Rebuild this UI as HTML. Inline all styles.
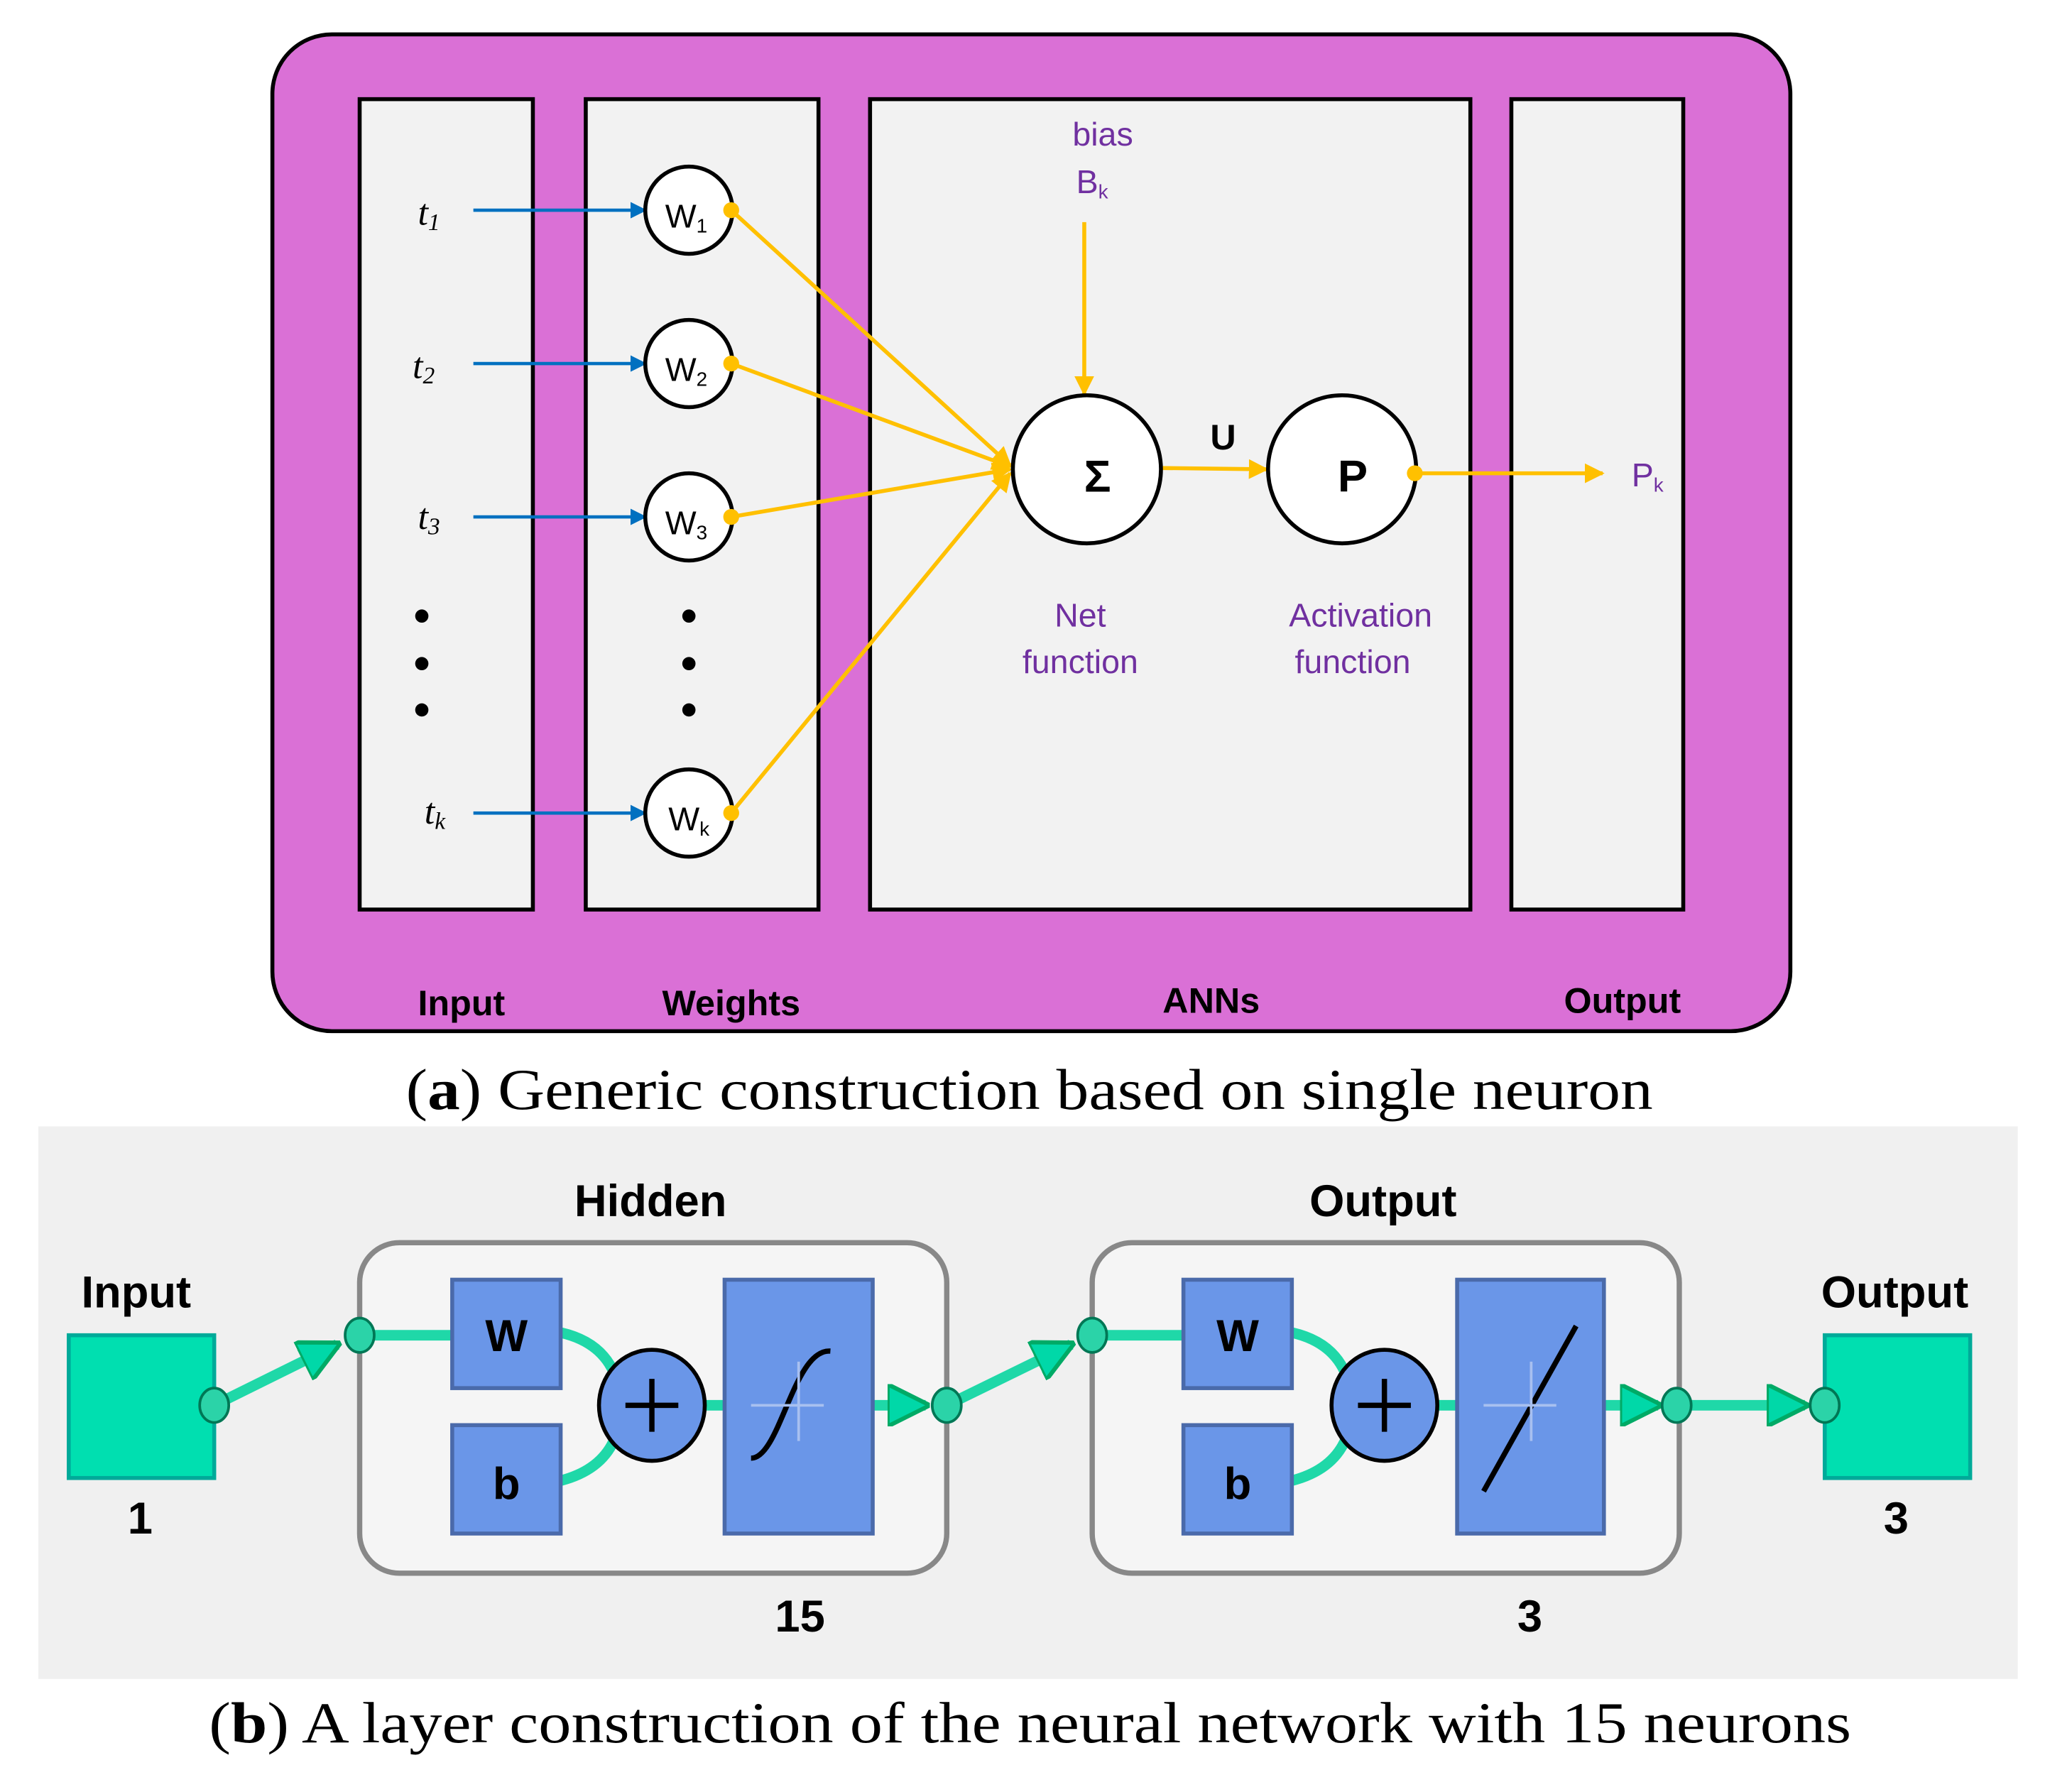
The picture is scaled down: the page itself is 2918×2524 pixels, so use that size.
<!DOCTYPE html>
<html><head><meta charset="utf-8"><style>
html,body{margin:0;padding:0;background:#fff;}
svg{display:block;}
.c{font-family:"Liberation Sans",sans-serif;}
.s{font-family:"Liberation Serif",serif;}
</style></head><body>
<svg width="2918" height="2524" viewBox="0 0 1567 1355.5" preserveAspectRatio="none" xmlns="http://www.w3.org/2000/svg">
<defs>
<marker id="ab" viewBox="0 0 10 10" refX="9" refY="5" markerWidth="5" markerHeight="5" orient="auto"><path d="M0,0L10,5L0,10z" fill="#0070c0"/></marker>
<marker id="ay" viewBox="0 0 10 10" refX="9" refY="5" markerWidth="5" markerHeight="5" orient="auto"><path d="M0,0L10,5L0,10z" fill="#ffc000"/></marker>
<marker id="at" viewBox="0 0 10 10" refX="9" refY="5" markerWidth="4" markerHeight="4" orient="auto"><path d="M0,0L10,5L0,10z" fill="#00d8a8" stroke="#0a6" stroke-width="1"/></marker>
</defs>
<rect x="206" y="26" width="1148" height="754" rx="45" fill="#da70d6" stroke="#000" stroke-width="3"/>
<g fill="#f2f2f2" stroke="#000" stroke-width="3">
<rect x="272" y="75" width="131" height="613"/>
<rect x="443" y="75" width="176" height="613"/>
<rect x="658" y="75" width="454" height="613"/>
<rect x="1143" y="75" width="130" height="613"/>
</g>
<g class="c" font-weight="bold" font-size="27" text-anchor="middle" fill="#000">
<text x="349" y="768">Input</text><text x="553" y="768">Weights</text><text x="916" y="766">ANNs</text><text x="1227" y="766">Output</text>
</g>
<g stroke="#0070c0" stroke-width="2.5" marker-end="url(#ab)">
<line x1="358" y1="159" x2="488" y2="159"/><line x1="358" y1="275" x2="488" y2="275"/>
<line x1="358" y1="391" x2="488" y2="391"/><line x1="358" y1="615" x2="488" y2="615"/>
</g>
<g class="s" font-style="italic" font-size="28" fill="#000">
<text x="316" y="170">t<tspan font-size="18" dy="4">1</tspan></text>
<text x="312" y="286">t<tspan font-size="18" dy="4">2</tspan></text>
<text x="316" y="400">t<tspan font-size="18" dy="4">3</tspan></text>
<text x="321" y="623">t<tspan font-size="18" dy="4">k</tspan></text>
</g>
<g fill="#000"><circle cx="319" cy="466" r="5"/><circle cx="319" cy="502" r="5"/><circle cx="319" cy="537" r="5"/>
<circle cx="521" cy="466" r="5"/><circle cx="521" cy="502" r="5"/><circle cx="521" cy="537" r="5"/></g>
<g stroke="#ffc000" stroke-width="3" fill="none" marker-end="url(#ay)">
<line x1="553" y1="159" x2="764" y2="352"/><line x1="553" y1="275" x2="764" y2="353"/>
<line x1="553" y1="391" x2="764" y2="355"/><line x1="553" y1="615" x2="764" y2="358"/>
<line x1="820" y1="168" x2="820" y2="298"/>
<line x1="877" y1="354" x2="958" y2="355"/>
<line x1="1070" y1="358" x2="1212" y2="358"/>
</g>
<g fill="#fff" stroke="#000" stroke-width="3">
<circle cx="521" cy="159" r="33"/><circle cx="521" cy="275" r="33"/><circle cx="521" cy="391" r="33"/><circle cx="521" cy="615" r="33"/>
<circle cx="822" cy="355" r="56"/><circle cx="1015" cy="355" r="56"/>
</g>
<g fill="#ffc000"><circle cx="553" cy="159" r="6"/><circle cx="553" cy="275" r="6"/><circle cx="553" cy="391" r="6"/><circle cx="553" cy="615" r="6"/><circle cx="1070" cy="358" r="6"/></g>
<g class="c" font-size="25" fill="#000" text-anchor="middle">
<text x="519" y="172">W<tspan font-size="15" dy="4">1</tspan></text>
<text x="519" y="288">W<tspan font-size="15" dy="4">2</tspan></text>
<text x="519" y="404">W<tspan font-size="15" dy="4">3</tspan></text>
<text x="521" y="628">W<tspan font-size="15" dy="4">k</tspan></text>
<text x="830" y="372" font-size="34" font-weight="bold">Σ</text>
<text x="1023" y="372" font-size="34" font-weight="bold">P</text>
<text x="925" y="340" font-size="27" font-weight="bold">U</text>
</g>
<g class="c" font-size="25" fill="#7030a0" text-anchor="middle">
<text x="834" y="110">bias</text>
<text x="826" y="146">B<tspan font-size="15" dy="4">k</tspan></text>
<text x="1246" y="368">P<tspan font-size="15" dy="4">k</tspan></text>
<text x="817" y="474">Net</text><text x="817" y="509">function</text>
<text x="1029" y="474">Activation</text><text x="1023" y="509">function</text>
</g>
<text class="s" x="307" y="839" font-size="44" textLength="943" lengthAdjust="spacingAndGlyphs">(<tspan font-weight="bold">a</tspan>) Generic construction based on single neuron</text>
<!-- part b -->
<rect x="29" y="852" width="1497" height="418" fill="#f0f0f0"/>
<g class="c" font-weight="bold" font-size="34" text-anchor="middle" fill="#000">
<text x="492" y="920">Hidden</text><text x="1046" y="920">Output</text>
<text x="103" y="989">Input</text><text x="1433" y="989">Output</text>
<text x="106" y="1160">1</text><text x="1434" y="1160">3</text>
<text x="605" y="1234">15</text><text x="1157" y="1234">3</text>
</g>
<g fill="#f5f5f5" stroke="#888" stroke-width="4">
<rect x="272" y="940" width="444" height="250" rx="30"/>
<rect x="826" y="940" width="444" height="250" rx="30"/>
</g>
<rect x="52" y="1010" width="110" height="108" fill="#00dfb0" stroke="#0a9" stroke-width="3"/>
<rect x="1380" y="1010" width="110" height="108" fill="#00dfb0" stroke="#0a9" stroke-width="3"/>
<g stroke="#1fd8a8" stroke-width="8" fill="none">
<line x1="162" y1="1063" x2="255" y2="1017" marker-end="url(#at)"/>
<line x1="716" y1="1063" x2="810" y2="1017" marker-end="url(#at)"/>
<line x1="272" y1="1010" x2="342" y2="1010"/><line x1="826" y1="1010" x2="895" y2="1010"/>
<path d="M424,1008 Q455,1015 465,1040"/><path d="M424,1120 Q455,1112 465,1088"/>
<path d="M977,1008 Q1008,1015 1018,1040"/><path d="M977,1120 Q1008,1112 1018,1088"/>
<line x1="533" y1="1063" x2="548" y2="1063"/><line x1="1087" y1="1063" x2="1102" y2="1063"/>
<line x1="660" y1="1063" x2="700" y2="1063" marker-end="url(#at)"/>
<line x1="1213" y1="1063" x2="1254" y2="1063" marker-end="url(#at)"/>
<line x1="1268" y1="1063" x2="1365" y2="1063" marker-end="url(#at)"/>
</g>
<g fill="#6a96e8" stroke="#4a6aaa" stroke-width="3">
<rect x="342" y="968" width="82" height="82"/><rect x="342" y="1078" width="82" height="82"/>
<rect x="548" y="968" width="112" height="192"/>
<rect x="895" y="968" width="82" height="82"/><rect x="895" y="1078" width="82" height="82"/>
<rect x="1102" y="968" width="111" height="192"/>
<ellipse cx="493" cy="1063" rx="40" ry="42" stroke="#000"/>
<ellipse cx="1047" cy="1063" rx="40" ry="42" stroke="#000"/>
</g>
<g stroke="#000" stroke-width="4" fill="none">
<path d="M473,1063h40M493,1043v40"/><path d="M1027,1063h40M1047,1043v40"/>
<path d="M568,1103 C590,1103 600,1020 628,1022"/>
<line x1="1122" y1="1128" x2="1192" y2="1003"/>
</g>
<g stroke="#a8c0f0" stroke-width="2"><path d="M568,1063h55M604,1030v60M1122,1063h55M1158,1030v60"/></g>
<g class="c" font-weight="bold" font-size="34" text-anchor="middle" fill="#000">
<text x="383" y="1022">W</text><text x="383" y="1134">b</text><text x="936" y="1022">W</text><text x="936" y="1134">b</text>
</g>
<g fill="#2bd3a8" stroke="#075" stroke-width="2">
<ellipse cx="162" cy="1063" rx="11" ry="13"/><ellipse cx="272" cy="1010" rx="11" ry="13"/>
<ellipse cx="716" cy="1063" rx="11" ry="13"/><ellipse cx="826" cy="1010" rx="11" ry="13"/>
<ellipse cx="1268" cy="1063" rx="11" ry="13"/><ellipse cx="1380" cy="1063" rx="11" ry="13"/>
</g>
<text class="s" x="158" y="1318" font-size="44" textLength="1242" lengthAdjust="spacingAndGlyphs">(<tspan font-weight="bold">b</tspan>) A layer construction of the neural network with 15 neurons</text>
</svg>
</body></html>
